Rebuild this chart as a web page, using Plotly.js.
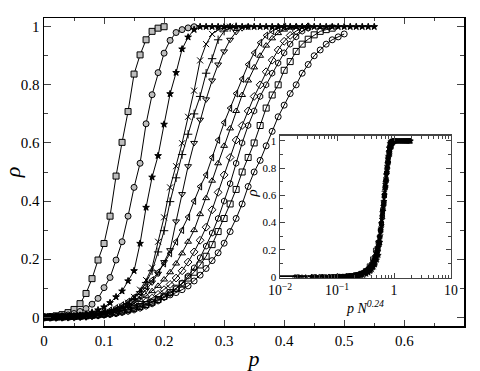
<!DOCTYPE html>
<html>
<head>
<meta charset="utf-8">
<script src="https://cdn.plot.ly/plotly-3.0.1.min.js"></script>
<style>body{margin:0;} #chart{width:480px;height:371px;}</style>
</head>
<body>
<div id="chart"></div>
<script>
var serif = "'Liberation Serif', 'Times New Roman', serif";

// p values sampled in steps of 0.01
var p_grid = [0, 0.01, 0.02, 0.03, 0.04, 0.05, 0.06, 0.07, 0.08, 0.09,
	0.10, 0.11, 0.12, 0.13, 0.14, 0.15, 0.16, 0.17, 0.18, 0.19,
	0.20, 0.21, 0.22, 0.23, 0.24, 0.25, 0.26, 0.27, 0.28, 0.29,
	0.30, 0.31, 0.32, 0.33, 0.34, 0.35, 0.36, 0.37, 0.38, 0.39,
	0.40, 0.41, 0.42, 0.43, 0.44, 0.45, 0.46, 0.47, 0.48, 0.49,
	0.50, 0.51, 0.52, 0.53, 0.54, 0.55];

// system sizes, largest (leftmost curve) first
var sizes = [1000, 400, 200, 90, 75, 60, 35, 29, 24, 19, 16, 12];

var rho_sq_gray = [0, 0.002, 0.005, 0.009, 0.016, 0.027, 0.047, 0.082, 0.133, 0.197, 0.254, 0.348, 0.486, 0.602, 0.708, 0.837, 0.903, 0.955, 0.984, 0.995, 1.0];
var rho_ci_gray = [0, 0.001, 0.003, 0.005, 0.008, 0.013, 0.02, 0.03, 0.045, 0.065, 0.102, 0.137, 0.197, 0.26, 0.348, 0.447, 0.53, 0.666, 0.766, 0.842, 0.909, 0.953, 0.98, 0.99, 0.996, 1.0];
var rho_star = [0, 0, 0, 0.001, 0.002, 0.004, 0.007, 0.011, 0.017, 0.025, 0.035, 0.05, 0.07, 0.09, 0.125, 0.16, 0.254, 0.378, 0.482, 0.556, 0.664, 0.769, 0.842, 0.923, 0.964, 0.99,
	1, 1, 1, 1, 1, 1, 1, 1, 1, 1, 1, 1, 1, 1, 1, 1, 1, 1, 1, 1, 1, 1, 1, 1, 1, 1, 1, 1, 1, 1];
var rho_x = [0, 0, 0, 0, 0.001, 0.001, 0.002, 0.004, 0.006, 0.009, 0.013, 0.019, 0.027, 0.037, 0.05, 0.07, 0.095, 0.128, 0.171, 0.26, 0.344, 0.447, 0.52, 0.599, 0.69, 0.78, 0.884, 0.94, 0.975, 0.99, 0.997, 1.0];
var rho_plus = [0, 0, 0, 0, 0.001, 0.001, 0.002, 0.003, 0.005, 0.008, 0.012, 0.017, 0.024, 0.033, 0.046, 0.064, 0.088, 0.12, 0.16, 0.225, 0.298, 0.398, 0.48, 0.56, 0.63, 0.70, 0.76, 0.84, 0.89, 0.955, 0.985, 0.997, 1.0];
var rho_tdown = [0, 0, 0, 0.001, 0.001, 0.002, 0.003, 0.004, 0.006, 0.008, 0.012, 0.017, 0.023, 0.031, 0.042, 0.056, 0.073, 0.095, 0.12, 0.15, 0.19, 0.231, 0.33, 0.424, 0.52, 0.6, 0.68, 0.75, 0.815, 0.87, 0.915, 0.955, 0.982, 0.995, 1.0];
var rho_tleft = [0, 0, 0.001, 0.001, 0.002, 0.003, 0.004, 0.006, 0.009, 0.013, 0.018, 0.024, 0.032, 0.042, 0.054, 0.068, 0.085, 0.105, 0.128, 0.155, 0.185, 0.22, 0.26, 0.30, 0.345, 0.40, 0.45, 0.49, 0.55, 0.61, 0.67, 0.72, 0.77, 0.82, 0.87, 0.91, 0.945, 0.97, 0.985, 0.995, 1.0];
var rho_tup = [0, 0, 0, 0.001, 0.001, 0.002, 0.003, 0.005, 0.007, 0.01, 0.013, 0.017, 0.023, 0.03, 0.038, 0.048, 0.06, 0.074, 0.09, 0.108, 0.13, 0.155, 0.185, 0.22, 0.26, 0.30, 0.355, 0.41, 0.47, 0.53, 0.59, 0.65, 0.71, 0.765, 0.815, 0.86, 0.9, 0.935, 0.96, 0.978, 0.99, 0.997, 1.0];
var rho_diam = [0, 0, 0, 0.001, 0.001, 0.002, 0.003, 0.004, 0.006, 0.008, 0.011, 0.014, 0.018, 0.023, 0.029, 0.036, 0.044, 0.054, 0.066, 0.079, 0.095, 0.113, 0.135, 0.16, 0.19, 0.225, 0.265, 0.31, 0.37, 0.43, 0.49, 0.55, 0.61, 0.66, 0.71, 0.76, 0.80, 0.845, 0.885, 0.92, 0.95, 0.97, 0.985, 0.995, 1.0];
var rho_hex = [0, 0, 0, 0, 0.001, 0.001, 0.002, 0.003, 0.004, 0.005, 0.007, 0.009, 0.012, 0.016, 0.02, 0.025, 0.031, 0.038, 0.046, 0.056, 0.068, 0.082, 0.098, 0.118, 0.142, 0.17, 0.205, 0.245, 0.29, 0.34, 0.40, 0.46, 0.53, 0.60, 0.66, 0.71, 0.76, 0.80, 0.84, 0.875, 0.91, 0.94, 0.965, 0.985, 0.995];
var rho_sq_open = [0, 0, 0.001, 0.001, 0.002, 0.003, 0.004, 0.005, 0.007, 0.009, 0.011, 0.014, 0.017, 0.021, 0.026, 0.031, 0.037, 0.044, 0.052, 0.061, 0.072, 0.085, 0.1, 0.115, 0.135, 0.155, 0.18, 0.21, 0.25, 0.295, 0.34, 0.39, 0.44, 0.5, 0.55, 0.60, 0.66, 0.72, 0.765, 0.80, 0.85, 0.88, 0.915, 0.94, 0.957, 0.972, 0.984, 0.99, 0.995];
var rho_ci_open = [0, 0, 0.001, 0.001, 0.002, 0.003, 0.004, 0.005, 0.007, 0.009, 0.011, 0.014, 0.017, 0.021, 0.025, 0.03, 0.036, 0.043, 0.051, 0.06, 0.07, 0.077, 0.085, 0.095, 0.108, 0.125, 0.145, 0.168, 0.195, 0.222, 0.255, 0.295, 0.34, 0.39, 0.45, 0.5, 0.54, 0.59, 0.64, 0.69, 0.73, 0.77, 0.80, 0.84, 0.87, 0.90, 0.92, 0.94, 0.955, 0.965, 0.975];

var curves = [rho_sq_gray, rho_ci_gray, rho_star, rho_x, rho_plus, rho_tdown, rho_tleft, rho_tup, rho_diam, rho_hex, rho_sq_open, rho_ci_open];
var symbols = ["square", "circle", "star", "x-thin-open", "cross-thin-open", "triangle-down-open", "triangle-left-open", "triangle-up-open", "diamond-open", "hexagon-open", "square-open", "circle-open"];
var fills = ["#bdbdbd", "#bdbdbd", "black", "black", "black", "black", "black", "black", "black", "black", "black", "black"];
var msize = [6, 6, 5, 6, 6, 6, 6, 6, 6, 6, 6, 6];

var data = [];
for (var i = 0; i < curves.length; i++) {
	var ps = p_grid.slice(0, curves[i].length);
	var scale = Math.pow(sizes[i], 0.24);
	data.push({
		x: ps,
		y: curves[i],
		mode: "lines+markers",
		line: {color: "black", width: 1},
		marker: {symbol: symbols[i], size: msize[i], color: fills[i], line: {color: "black", width: 1}},
		xaxis: "x",
		yaxis: "y"
	});
	// inset: collapsed data
	data.push({
		x: ps.map(function (p) { return p * scale; }),
		y: curves[i],
		mode: "lines+markers",
		line: {color: "black", width: 0.8},
		marker: {symbol: symbols[i], size: 4, color: fills[i], line: {color: "black", width: 0.8}},
		xaxis: "x2",
		yaxis: "y2"
	});
}

var axis_common = {
	ticks: "inside",
	showline: true,
	linecolor: "black",
	mirror: "ticks",
	showgrid: false,
	zeroline: false
};

var layout = {
	width: 480,
	height: 371,
	margin: {l: 44, r: 16, t: 18, b: 45},
	showlegend: false,
	paper_bgcolor: "white",
	plot_bgcolor: "white",
	font: {family: serif, color: "black"},
	xaxis: Object.assign({}, axis_common, {
		domain: [0, 1],
		range: [0, 0.6995],
		dtick: 0.1,
		ticklen: 6,
		linewidth: 1.5,
		minor: {dtick: 0.05, ticks: "inside", ticklen: 3},
		tickfont: {family: serif, size: 15, color: "black"},
		title: {text: "<i>p</i>", font: {family: serif, size: 22, color: "black"}, standoff: 6}
	}),
	yaxis: Object.assign({}, axis_common, {
		domain: [0, 1],
		range: [-0.03, 1.03],
		dtick: 0.2,
		ticklen: 7,
		linewidth: 1.5,
		minor: {dtick: 0.1, ticks: "inside", ticklen: 4},
		tickfont: {family: serif, size: 15, color: "black"},
		title: {text: "<i>ρ</i>", font: {family: serif, size: 22, color: "black"}, standoff: 8}
	}),
	xaxis2: Object.assign({}, axis_common, {
		type: "log",
		domain: [0.562, 0.969],
		anchor: "y2",
		range: [-2, 1],
		dtick: 1,
		exponentformat: "power",
		ticklen: 5,
		linewidth: 1.5,
		linecolor: "#444",
		minor: {ticks: "inside", ticklen: 3},
		tickfont: {family: serif, size: 11, color: "black"},
		title: {text: "<i>p N<sup>0.24</sup></i>", font: {family: serif, size: 14, color: "black"}, standoff: 2}
	}),
	yaxis2: Object.assign({}, axis_common, {
		domain: [0.156, 0.617],
		anchor: "x2",
		range: [-0.007, 1.037],
		dtick: 0.2,
		ticklen: 5,
		linewidth: 1.5,
		linecolor: "#444",
		minor: {dtick: 0.1, ticks: "inside", ticklen: 3},
		tickfont: {family: serif, size: 11, color: "black"}
	}),
	annotations: [{
		text: "<i>ρ</i>",
		xref: "paper",
		yref: "paper",
		x: 0.493,
		y: 0.43,
		showarrow: false,
		textangle: -90,
		font: {family: serif, size: 15, color: "black"}
	}]
};

Plotly.newPlot("chart", data, layout, {displayModeBar: false, staticPlot: true});
</script>
</body>
</html>
